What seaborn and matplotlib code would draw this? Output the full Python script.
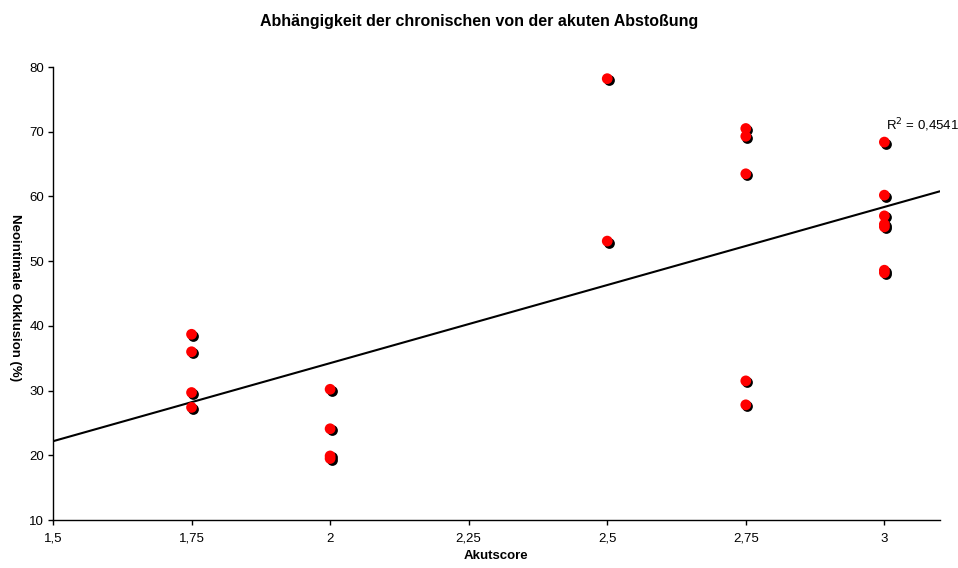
import matplotlib
matplotlib.use("Agg")
import matplotlib.pyplot as plt
import matplotlib.transforms as mtransforms
import seaborn as sns
import pandas as pd
import numpy as np

sns.set_theme(style="white")
plt.rcParams['font.family'] = ['Liberation Sans', 'DejaVu Sans']
plt.rcParams['text.color'] = 'black'
plt.rcParams['axes.labelcolor'] = 'black'
plt.rcParams['xtick.color'] = 'black'
plt.rcParams['ytick.color'] = 'black'

akutscore = [1.75, 1.75, 1.75, 1.75,
             2.0, 2.0, 2.0, 2.0,
             2.5, 2.5,
             2.75, 2.75, 2.75, 2.75, 2.75,
             3.0, 3.0, 3.0, 3.0, 3.0, 3.0, 3.0]
okklusion = [38.7, 36.0, 29.7, 27.4,
             30.2, 24.1, 19.9, 19.5,
             78.2, 53.1,
             70.5, 69.3, 63.5, 31.5, 27.8,
             68.4, 60.2, 57.0, 55.7, 55.3, 48.6, 48.2]
x_ticks = [1.5, 1.75, 2.0, 2.25, 2.5, 2.75, 3.0]
x_ticklabels = ["1,5", "1,75", "2", "2,25", "2,5", "2,75", "3"]
y_ticks = [10, 20, 30, 40, 50, 60, 70, 80]
r2_label = "R$^2$ = 0,4541"

df = pd.DataFrame({"Akutscore": akutscore, "Okklusion": okklusion})

fig = plt.figure(figsize=(9.58, 5.68), dpi=100)
ax = fig.add_axes([0.0553, 0.0845, 0.9257, 0.7975])
ax.set_xlim(1.5, 3.1)
ax.set_ylim(10, 80)

# trend line across the full axis range
sns.regplot(data=df, x="Akutscore", y="Okklusion", ax=ax, scatter=False,
            ci=None, truncate=False, color="black", line_kws={"lw": 1.5})

# shadow markers
shadow = mtransforms.offset_copy(ax.transData, fig=fig, x=1.1, y=-1.1, units="points")
ax.scatter(df["Akutscore"], df["Okklusion"], s=60, color="black",
           transform=shadow, zorder=3, linewidths=0)
sns.scatterplot(data=df, x="Akutscore", y="Okklusion", ax=ax, s=60,
                color="#ff0000", edgecolor="none", zorder=4)

ax.set_xticks(x_ticks)
ax.set_xticklabels(x_ticklabels)
ax.set_yticks(y_ticks)
ax.tick_params(axis="both", direction="out", length=3.5, width=1, color="black",
               labelcolor="black", labelsize=9.5, bottom=True, left=True)
ax.tick_params(axis="x", pad=5.5)
ax.tick_params(axis="y", pad=3)
for s in ["top", "right"]:
    ax.spines[s].set_visible(False)
for s in ["left", "bottom"]:
    ax.spines[s].set_color("black")
    ax.spines[s].set_linewidth(1)

ax.set_xlabel("Akutscore", fontsize=9.5, fontweight="bold", labelpad=4, color="black")
ax.set_ylabel("Neointimale Okklusion (%)", fontsize=9.5, fontweight="bold",
              rotation=270, va="center", color="black")
ax.yaxis.set_label_coords(-0.0425, 0.49)

ax.text(3.003, 71.0, r2_label, fontsize=9.5, ha="left", va="center", color="black")

fig.suptitle("Abhängigkeit der chronischen von der akuten Abstoßung",
             fontsize=11.5, fontweight="bold", x=0.5, y=0.976, va="top", color="black")

fig.savefig("out.png", dpi=100, facecolor="white")
